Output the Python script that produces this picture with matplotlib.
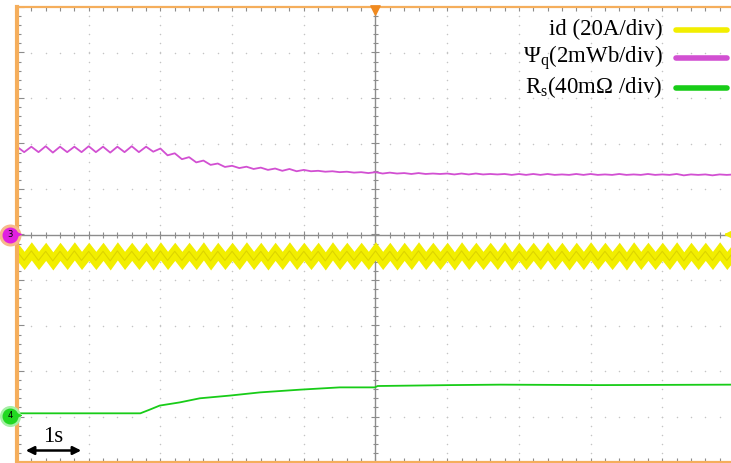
import numpy as np
import matplotlib
matplotlib.use("Agg")
import matplotlib.pyplot as plt
from matplotlib.collections import LineCollection

plt.rcParams['font.family'] = ['Liberation Serif', 'DejaVu Serif']
plt.rcParams['mathtext.fontset'] = 'custom'
plt.rcParams['mathtext.rm'] = 'Liberation Serif'

# Osie w działkach oscyloskopu (1 dz. = 1 s w poziomie)
t_fast = np.round(np.arange(0, 10.01, 0.1), 2)

# id (20A/div) - przebieg w działkach
id_div = [
    -0.37, -0.57, -0.36, -0.57, -0.37, -0.58, -0.37, -0.57, -0.36, -0.57,
    -0.37, -0.57, -0.37, -0.58, -0.36, -0.57, -0.37, -0.57, -0.37, -0.58,
    -0.36, -0.57, -0.37, -0.57, -0.37, -0.57, -0.36, -0.58, -0.37, -0.57,
    -0.37, -0.57, -0.36, -0.57, -0.37, -0.58, -0.37, -0.57, -0.36, -0.57,
    -0.37, -0.57, -0.37, -0.58, -0.36, -0.57, -0.37, -0.57, -0.37, -0.57,
    -0.36, -0.57, -0.37, -0.58, -0.37, -0.57, -0.36, -0.57, -0.37, -0.57,
    -0.37, -0.58, -0.36, -0.57, -0.37, -0.57, -0.37, -0.57, -0.36, -0.58,
    -0.37, -0.57, -0.37, -0.57, -0.36, -0.57, -0.37, -0.58, -0.37, -0.57,
    -0.36, -0.57, -0.37, -0.57, -0.37, -0.58, -0.36, -0.57, -0.37, -0.57,
    -0.37, -0.57, -0.36, -0.58, -0.37, -0.57, -0.37, -0.57, -0.36, -0.57,
    -0.37,
]

# Psi_q (2mWb/div)
psi_div = [
    1.93, 1.81, 1.93, 1.81, 1.94, 1.80, 1.93, 1.81, 1.93, 1.81,
    1.94, 1.81, 1.93, 1.80, 1.93, 1.81, 1.94, 1.81, 1.93, 1.82,
    1.89, 1.74, 1.785, 1.655, 1.70, 1.585, 1.625, 1.53, 1.56, 1.485,
    1.51, 1.46, 1.49, 1.44, 1.47, 1.42, 1.45, 1.40, 1.44, 1.39,
    1.42, 1.39, 1.40, 1.38, 1.39, 1.37, 1.38, 1.36, 1.37, 1.35,
    1.37, 1.34, 1.36, 1.34, 1.35, 1.33, 1.35, 1.33, 1.34, 1.33,
    1.34, 1.32, 1.34, 1.32, 1.34, 1.32, 1.33, 1.32, 1.33, 1.31,
    1.33, 1.31, 1.33, 1.31, 1.33, 1.31, 1.32, 1.31, 1.33, 1.31,
    1.33, 1.31, 1.32, 1.31, 1.33, 1.31, 1.32, 1.31, 1.33, 1.31,
    1.32, 1.31, 1.33, 1.30, 1.32, 1.31, 1.32, 1.30, 1.32, 1.31,
    1.32,
]

# Rs (40mOhm/div)
rs_t = [0.0, 1.72, 1.85, 1.99, 2.27, 2.55, 2.97, 3.39, 3.95, 4.50, 4.99, 5.03, 6.04, 6.74, 8.13, 9.96]
rs_div = [-3.93, -3.93, -3.85, -3.76, -3.69, -3.60, -3.54, -3.47, -3.41, -3.36, -3.36, -3.33, -3.31, -3.30, -3.31, -3.30]

legend_labels = ['id (20A/div)', r'$\Psi_\mathrm{q}$(2mWb/div)', r'R$_\mathrm{s}$(40m$\Omega$ /div)']
colors = ['#f2ee00', '#d250d2', '#18cc18']

W, H = 731, 463
DX, DY = 71.7, 45.5  # piksele na działkę
XMAX = (W - 17) / DX

fig = plt.figure(figsize=(W / 100, H / 100), dpi=100)
ax = fig.add_axes([17 / W, 1 / H, (W - 17) / W, 455 / H])
ax.set_xlim(0, XMAX)
ax.set_ylim(-5, 5)
ax.axis('off')

px = 1 / DX
py = 1 / DY

# siatka kropkowana
x_minor = np.arange(0, 10.01, 0.2)
y_minor = np.arange(-5, 5.01, 0.2)
gx, gy = [], []
for xm in range(1, 10):
    if xm == 5:
        continue
    gx += [xm] * len(y_minor)
    gy += list(y_minor)
for ym in range(-4, 5):
    if ym == 0:
        continue
    gx += list(x_minor)
    gy += [ym] * len(x_minor)
ax.scatter(gx, gy, s=1.2, color='#c4c4c4', linewidths=0, zorder=1)

# osie środkowe z podziałką
grey = '#8c8c8c'
ax.plot([0, XMAX], [0, 0], color=grey, lw=1, zorder=2)
ax.plot([5, 5], [-5, 5], color=grey, lw=1, zorder=2)
segs = []
for xm in x_minor:
    L = 4 if abs(xm - round(xm)) < 1e-6 else 3
    segs.append([(xm, -L * py), (xm, L * py)])
    segs.append([(xm, 5), (xm, 5 - 4 * py)])
    segs.append([(xm, -5), (xm, -5 + 4 * py)])
for ym in y_minor:
    L = 4 if abs(ym - round(ym)) < 1e-6 else 3
    segs.append([(5 - L * px, ym), (5 + L * px, ym)])
    Lb = 7 if abs(ym - round(ym)) < 1e-6 else 4
    segs.append([(0, ym), (Lb * px, ym)])
ax.add_collection(LineCollection(segs, colors=grey, linewidths=0.8, zorder=2))

# ramka (pomarańczowa)
orange = '#f5ae5c'
ax.plot([0, XMAX], [5, 5], color=orange, lw=1.6, zorder=5, clip_on=False)
ax.plot([0, XMAX], [-5, -5], color=orange, lw=1.6, zorder=5, clip_on=False)
ax.plot([0, 0], [-5, 5], color=orange, lw=3, zorder=5, clip_on=False)

# przebiegi
id_arr = np.array(id_div)
ax.fill_between(t_fast, id_arr - 0.2, id_arr + 0.2, color=colors[0], lw=0, zorder=3)
ax.plot(t_fast, id_arr, color='#dcd400', lw=0.8, zorder=3)
ax.plot(t_fast, psi_div, color=colors[1], lw=1.3, zorder=3)
ax.plot(rs_t, rs_div, color=colors[2], lw=1.3, zorder=3)

# znaczniki kanałów
ax.scatter([-7 * px], [0], s=220, color='#f7b98a', zorder=6, clip_on=False)
ax.scatter([-7 * px], [0], s=110, color='#e020e0', zorder=7, clip_on=False)
ax.text(-7 * px, 0, '3', fontsize=6, ha='center', va='center', zorder=8, family='DejaVu Sans')
ax.annotate('', xy=(8 * px, 0), xytext=(0, 0),
            arrowprops=dict(arrowstyle='-|>', color='#e020e0', lw=1, mutation_scale=7), zorder=7)
y4 = (235 - 416) * py
ax.scatter([-7 * px], [y4], s=200, color='#a6f0a6', zorder=6, clip_on=False)
ax.scatter([-7 * px], [y4], s=110, color='#22d822', zorder=7, clip_on=False)
ax.text(-7 * px, y4, '4', fontsize=6, ha='center', va='center', zorder=8, family='DejaVu Sans')
ax.annotate('', xy=(8 * px, y4), xytext=(0, y4),
            arrowprops=dict(arrowstyle='-|>', color='#22d822', lw=1, mutation_scale=7), zorder=7)
ax.annotate('', xy=(XMAX - 10 * px, 0), xytext=(XMAX, 0),
            arrowprops=dict(arrowstyle='-|>', color=colors[0], lw=1.5, mutation_scale=9), zorder=7)
ax.scatter([5], [5 - 3 * py], marker='v', s=45, color='#f08a20', zorder=8, clip_on=False)

# legenda
for lab, c, yp in zip(legend_labels, colors, [30, 59, 88]):
    yd = (235 - yp) * py
    ax.text((663 - 17) * px, yd, lab, fontsize=16.5, ha='right', va='center', zorder=9)
    ax.plot([(676 - 17) * px, (727 - 17) * px], [yd, yd], color=c, lw=4,
            solid_capstyle='round', zorder=9, clip_on=False)

# skala czasu 1s
ax.annotate('', xy=((84 - 17) * px, (235 - 451) * py), xytext=((23 - 17) * px, (235 - 451) * py),
            arrowprops=dict(arrowstyle='<|-|>', color='black', lw=1.8, mutation_scale=12), zorder=9)
ax.text((53 - 17) * px, (235 - 437) * py, '1s', fontsize=16.5, ha='center', va='center', zorder=9)

fig.savefig('out.png', dpi=100)
